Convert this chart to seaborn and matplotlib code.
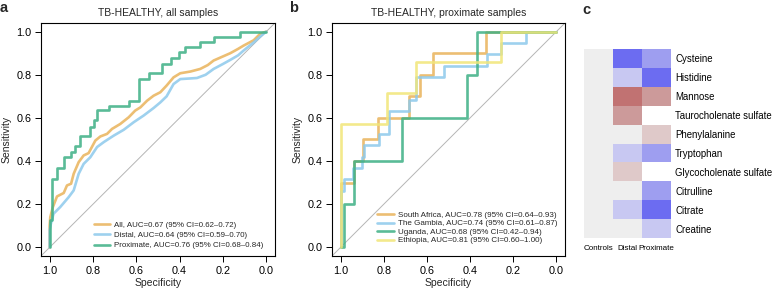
import numpy as np
import pandas as pd
import matplotlib
matplotlib.use("Agg")
import matplotlib.pyplot as plt
from matplotlib.colors import ListedColormap
import seaborn as sns

sns.set_theme(style="ticks")
plt.rcParams["font.family"] = ["Liberation Sans", "DejaVu Sans"]
plt.rcParams["axes.edgecolor"] = "black"
plt.rcParams["axes.linewidth"] = 0.8
plt.rcParams["xtick.color"] = "black"
plt.rcParams["ytick.color"] = "black"

# ---- panel a: all samples (spec, sens points) ----
all_spec = [1.0, 1.0, 0.997, 0.985, 0.966, 0.935, 0.92, 0.901, 0.889, 0.866, 0.843, 0.82,
            0.789, 0.766, 0.735, 0.712, 0.674, 0.635, 0.605, 0.581, 0.55, 0.52, 0.489, 0.46,
            0.428, 0.397, 0.35, 0.305, 0.27, 0.243, 0.2, 0.166, 0.13, 0.105, 0.058, 0.028, 0.0]
all_sens = [0.0, 0.10, 0.14, 0.187, 0.236, 0.252, 0.287, 0.295, 0.341, 0.395, 0.426, 0.437,
            0.495, 0.514, 0.526, 0.549, 0.572, 0.603, 0.634, 0.649, 0.68, 0.703, 0.719, 0.75,
            0.788, 0.807, 0.815, 0.827, 0.845, 0.866, 0.885, 0.9, 0.92, 0.935, 0.96, 0.99, 1.0]

dist_spec = [1.0, 1.0, 0.994, 0.982, 0.951, 0.912, 0.889, 0.866, 0.843, 0.812, 0.781, 0.75,
             0.704, 0.658, 0.612, 0.566, 0.52, 0.489, 0.46, 0.428, 0.397, 0.35, 0.32, 0.28,
             0.243, 0.2, 0.166, 0.13, 0.105, 0.058, 0.028, 0.0]
dist_sens = [0.0, 0.08, 0.11, 0.156, 0.187, 0.233, 0.264, 0.341, 0.387, 0.418, 0.465, 0.488,
             0.518, 0.545, 0.58, 0.611, 0.646, 0.672, 0.70, 0.757, 0.78, 0.783, 0.785, 0.80,
             0.827, 0.85, 0.869, 0.89, 0.912, 0.95, 0.977, 1.0]

# proximate curve: step corners (horizontal first, then up)
prox_spec = [1.0, 1.0, 0.99, 0.966, 0.935, 0.90, 0.881, 0.862, 0.815, 0.797, 0.78, 0.728,
             0.635, 0.589, 0.543, 0.481, 0.44, 0.405, 0.374, 0.305, 0.243, 0.12, 0.0]
prox_sens = [0.0, 0.125, 0.318, 0.367, 0.418, 0.441, 0.468, 0.514, 0.56, 0.59, 0.637, 0.655,
             0.68, 0.78, 0.807, 0.85, 0.878, 0.904, 0.927, 0.95, 0.977, 1.0, 1.0]

labels_a = ["All, AUC=0.67 (95% CI=0.62\u20130.72)",
            "Distal, AUC=0.64 (95% CI=0.59\u20130.70)",
            "Proximate, AUC=0.76 (95% CI=0.68\u20130.84)"]

# ---- panel b: proximate samples per site (step corners) ----
sa_spec = [1.0, 1.0, 0.94, 0.898, 0.829, 0.683, 0.63, 0.573, 0.325, 0.0]
sa_sens = [0.0, 0.3, 0.4, 0.5, 0.6, 0.7, 0.8, 0.9, 1.0, 1.0]

gm_spec = [1.0, 1.0, 0.985, 0.943, 0.902, 0.89, 0.82, 0.778, 0.683, 0.65, 0.523, 0.32, 0.256, 0.14, 0.0]
gm_sens = [0.0, 0.263, 0.316, 0.368, 0.421, 0.474, 0.526, 0.632, 0.684, 0.789, 0.842, 0.895, 0.947, 1.0, 1.0]

ug_spec = [1.0, 0.986, 0.94, 0.717, 0.416, 0.37, 0.0]
ug_sens = [0.0, 0.2, 0.4, 0.6, 0.8, 1.0, 1.0]

et_spec = [1.0, 1.0, 0.783, 0.65, 0.258, 0.0]
et_sens = [0.0, 0.571, 0.714, 0.857, 1.0, 1.0]

labels_b = ["South Africa, AUC=0.78 (95% CI=0.64\u20130.93)",
            "The Gambia, AUC=0.74 (95% CI=0.61\u20130.87)",
            "Uganda, AUC=0.68 (95% CI=0.42\u20130.94)",
            "Ethiopia, AUC=0.81 (95% CI=0.60\u20131.00)"]

# ---- panel c: heatmap levels (-3 strong down ... 3 strong up, NaN blank) ----
metabolites = ["Cysteine", "Histidine", "Mannose", "Taurocholenate sulfate", "Phenylalanine",
               "Tryptophan", "Glycocholenate sulfate", "Citrulline", "Citrate", "Creatine"]
groups = ["Controls", "Distal", "Proximate"]
controls = [0, 0, 0, 0, 0, 0, 0, 0, 0, 0]
distal = [-3, -1, 3, 2, 0, -1, 1, 0, -1, 0]
proximate = [-2, -3, 2, np.nan, 1, -2, np.nan, -2, -3, -1]

c_orange, c_blue, c_green, c_yellow = "#E9B35A", "#8DC9EC", "#3DB085", "#F1E678"

fig = plt.figure(figsize=(7.76, 2.91), dpi=100)
ax_a = fig.add_axes([0.0528, 0.1203, 0.3015, 0.8007])
ax_b = fig.add_axes([0.4278, 0.1203, 0.3003, 0.8007])
ax_c = fig.add_axes([0.7526, 0.1821, 0.1121, 0.6495])


def roc_panel(ax, curves, labels, title, leg_anchor, leg_space, leg_size):
    ax.plot([1.04, -0.04], [-0.04, 1.04], color="#B5B5B5", lw=0.7, zorder=1)
    for (sp, se, col, style), lab in zip(curves, labels):
        df = pd.DataFrame({"spec": sp, "sens": se})
        sns.lineplot(data=df, x="spec", y="sens", ax=ax, sort=False, estimator=None,
                     color=col, lw=1.9, alpha=0.85, drawstyle=style, label=lab)
    ax.set_xlim(1.04, -0.04)
    ax.set_ylim(-0.04, 1.04)
    ticks = [1.0, 0.8, 0.6, 0.4, 0.2, 0.0]
    ax.set_xticks(ticks)
    ax.set_yticks(ticks[::-1])
    ax.set_xticklabels([f"{t:.1f}" for t in ticks], fontsize=7.8)
    ax.set_yticklabels([f"{t:.1f}" for t in ticks[::-1]], fontsize=7.8)
    ax.tick_params(length=4.5, width=0.7, pad=2.5)
    ax.set_xlabel("Specificity", fontsize=7.5, labelpad=2)
    ax.set_ylabel("Sensitivity", fontsize=7.5, labelpad=3)
    ax.set_title(title, fontsize=7.5, pad=5)
    ax.legend(loc="lower left", bbox_to_anchor=leg_anchor, frameon=False, fontsize=leg_size,
              handlelength=2.1, handletextpad=0.5, labelspacing=leg_space, borderpad=0,
              borderaxespad=0)


roc_panel(ax_a,
          [(all_spec, all_sens, c_orange, "default"), (dist_spec, dist_sens, c_blue, "default"),
           (prox_spec, prox_sens, c_green, "steps-post")],
          labels_a, "TB-HEALTHY, all samples", (0.225, 0.028), 0.36, 5.7)
roc_panel(ax_b,
          [(sa_spec, sa_sens, c_orange, "steps-post"), (gm_spec, gm_sens, c_blue, "steps-post"),
           (ug_spec, ug_sens, c_green, "steps-post"), (et_spec, et_sens, c_yellow, "steps-post")],
          labels_b, "TB-HEALTHY, proximate samples", (0.195, 0.05), 0.1, 5.8)

heat = pd.DataFrame({"Controls": controls, "Distal": distal, "Proximate": proximate},
                    index=metabolites)[groups]
cmap = ListedColormap(["#6C6CF1", "#9E9EF0", "#C8C8F2", "#EEEEEE", "#DFC9C9", "#CC9A9A", "#C17272"])
sns.heatmap(heat, ax=ax_c, cmap=cmap, vmin=-3.5, vmax=3.5, cbar=False,
            xticklabels=groups, yticklabels=metabolites)
ax_c.yaxis.tick_right()
ax_c.tick_params(length=0)
ax_c.tick_params(axis="y", pad=3)
ax_c.set_yticklabels(metabolites, rotation=0, fontsize=6.9)
ax_c.set_xticklabels(groups, rotation=0, fontsize=5.8)
ax_c.tick_params(axis="x", pad=5)
ax_c.set_xlabel("")
ax_c.set_ylabel("")

for x, y, letter in [(0.0, 0.998, "a"), (0.373, 0.998, "b"), (0.751, 0.99, "c")]:
    fig.text(x, y, letter, fontsize=10.5, fontweight="bold", va="top", ha="left")

fig.savefig("out.png", dpi=100)
